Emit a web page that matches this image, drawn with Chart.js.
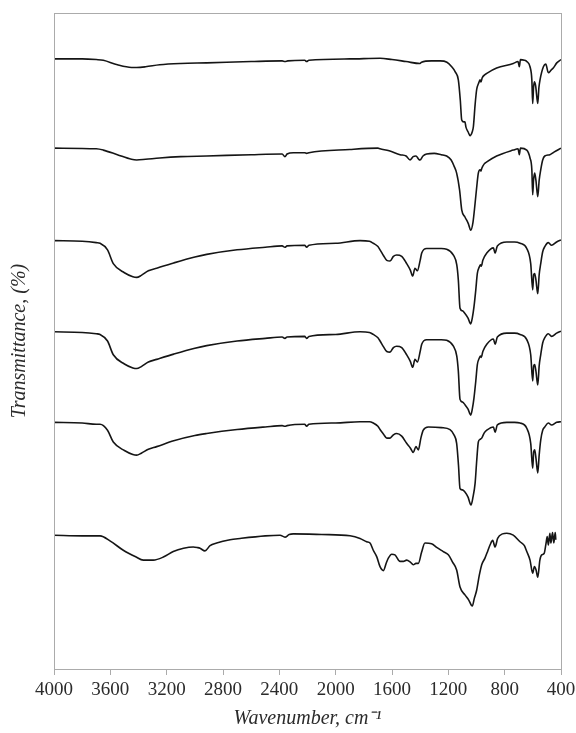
<!DOCTYPE html>
<html>
<head>
<meta charset="utf-8">
<script src="https://cdn.jsdelivr.net/npm/chart.js@4/dist/chart.umd.min.js"></script>
<style>
    html, body { margin: 0; padding: 0; background: #fff; }
    #wrap { width: 576px; height: 733px; }
</style>
</head>
<body>
<div id="wrap"><canvas id="ftir" width="576" height="733"></canvas></div>
<script>
// x tick labels (wavenumber, cm-1), axis runs 4000 -> 400
const xTicks = [4000, 3600, 3200, 2800, 2400, 2000, 1600, 1200, 800, 400];

// spectra, [wavenumber, transmittance], top to bottom
const spectrum1 = [
    [4000, 93.0], [3900, 93.0], [3800, 93.0], [3700, 92.9], [3650, 92.8], [3550, 92.1], [3450, 91.7], [3413, 91.7],
    [3350, 91.8], [3250, 92.1], [3100, 92.3], [2916, 92.4], [2600, 92.6], [2380, 92.7], [2360, 92.6], [2340, 92.7],
    [2220, 92.8], [2206, 92.6], [2190, 92.8], [1900, 93.0], [1685, 93.1], [1600, 92.9], [1500, 92.6], [1401, 92.3],
    [1390, 92.5], [1320, 92.7], [1259, 92.7], [1210, 92.5], [1176, 91.8], [1150, 91.0], [1129, 89.8], [1115, 86.7],
    [1105, 83.7], [1090, 83.4], [1082, 83.4], [1075, 82.6], [1060, 81.9], [1046, 81.3], [1030, 81.9], [1022, 82.7],
    [1010, 86.0], [999, 88.3], [985, 89.3], [975, 89.8], [968, 89.5], [960, 90.1], [940, 90.6], [927, 90.8],
    [857, 91.6], [739, 92.3], [705, 92.6], [696, 91.8], [688, 92.9], [660, 92.8], [643, 92.6], [620, 91.8],
    [607, 89.8], [601, 86.2], [595, 88.6], [589, 89.5], [580, 88.9], [565, 86.2], [557, 88.6], [549, 89.8],
    [525, 91.8], [508, 92.2], [490, 90.9], [470, 91.3], [455, 91.6], [430, 92.4], [400, 92.9]
];

const spectrum2 = [
    [4000, 79.4], [3700, 79.3], [3650, 79.1], [3550, 78.4], [3450, 77.7], [3413, 77.6], [3350, 77.7], [3250, 77.9],
    [3100, 78.1], [2916, 78.2], [2600, 78.4], [2380, 78.5], [2360, 78.1], [2345, 78.5], [2300, 78.7], [2220, 78.7],
    [2206, 78.6], [2190, 78.7], [1900, 79.2], [1700, 79.4], [1685, 79.3], [1620, 79.0], [1543, 78.4], [1500, 78.2],
    [1472, 77.6], [1450, 78.1], [1430, 78.2], [1410, 77.7], [1401, 77.6], [1380, 78.2], [1354, 78.5], [1300, 78.6],
    [1250, 78.4], [1212, 78.2], [1180, 77.6], [1160, 76.7], [1141, 75.6], [1120, 73.0], [1105, 70.0], [1082, 68.9],
    [1058, 67.9], [1041, 66.9], [1025, 68.1], [1010, 71.0], [995, 74.2], [987, 75.6], [975, 76.1], [968, 75.9],
    [963, 76.3], [945, 77.0], [927, 77.3], [857, 78.2], [739, 79.1], [705, 79.3], [696, 78.4], [688, 79.4],
    [643, 79.1], [620, 77.9], [607, 76.1], [601, 72.3], [595, 74.5], [587, 75.6], [578, 74.5], [565, 72.0],
    [555, 74.5], [544, 76.1], [530, 77.6], [515, 78.2], [479, 78.4], [450, 78.8], [400, 79.4]
];

const spectrum3 = [
    [4000, 65.3], [3800, 65.2], [3700, 65.0], [3673, 64.9], [3620, 63.9], [3579, 61.8], [3500, 60.4], [3440, 59.8],
    [3413, 59.7], [3380, 60.0], [3330, 60.7], [3271, 61.1], [3150, 61.9], [3000, 62.8], [2916, 63.2], [2700, 63.9],
    [2500, 64.3], [2380, 64.5], [2360, 64.3], [2345, 64.5], [2220, 64.6], [2206, 64.3], [2190, 64.6], [2000, 64.9],
    [1827, 65.3], [1760, 65.2], [1733, 64.9], [1700, 64.4], [1685, 63.9], [1660, 63.0], [1637, 62.3], [1614, 62.2],
    [1590, 62.9], [1567, 63.1], [1531, 62.9], [1496, 61.8], [1470, 60.8], [1453, 59.9], [1437, 61.1], [1420, 60.7],
    [1400, 62.3], [1389, 63.4], [1354, 64.1], [1250, 64.1], [1212, 64.0], [1164, 63.1], [1140, 61.6], [1129, 59.3],
    [1117, 55.0], [1100, 54.6], [1082, 54.2], [1060, 53.5], [1041, 52.6], [1030, 53.5], [1018, 55.2], [1005, 57.8],
    [994, 60.3], [980, 61.3], [971, 61.6], [966, 61.4], [955, 62.3], [927, 63.4], [880, 64.2], [868, 63.4],
    [852, 64.5], [785, 65.1], [730, 65.1], [691, 64.9], [643, 64.1], [615, 61.8], [601, 57.8], [594, 60.1],
    [587, 60.3], [578, 59.3], [565, 57.2], [555, 60.1], [544, 61.8], [530, 63.6], [515, 64.4], [490, 65.0],
    [467, 64.6], [431, 65.1], [400, 65.4]
];

const spectrum4 = [
    [4000, 51.4], [3800, 51.3], [3700, 51.1], [3673, 51.0], [3620, 50.0], [3579, 47.9], [3500, 46.5], [3440, 45.9],
    [3413, 45.8], [3380, 46.1], [3330, 46.8], [3271, 47.2], [3150, 48.0], [3000, 48.9], [2916, 49.3], [2700, 50.0],
    [2500, 50.4], [2380, 50.6], [2360, 50.4], [2345, 50.6], [2220, 50.7], [2206, 50.4], [2190, 50.7], [2000, 51.0],
    [1827, 51.4], [1760, 51.3], [1733, 51.0], [1700, 50.5], [1685, 50.0], [1660, 49.1], [1637, 48.4], [1614, 48.3],
    [1590, 49.0], [1567, 49.2], [1531, 49.0], [1496, 47.9], [1470, 46.9], [1453, 46.0], [1437, 47.2], [1420, 46.8],
    [1400, 48.4], [1389, 49.5], [1354, 50.2], [1250, 50.2], [1212, 50.1], [1164, 49.2], [1140, 47.7], [1129, 45.4],
    [1117, 41.1], [1100, 40.7], [1082, 40.3], [1060, 39.6], [1041, 38.7], [1030, 39.6], [1018, 41.3], [1005, 43.9],
    [994, 46.4], [980, 47.4], [971, 47.7], [966, 47.5], [955, 48.4], [927, 49.5], [880, 50.3], [868, 49.5],
    [852, 50.6], [785, 51.2], [730, 51.2], [691, 51.0], [643, 50.2], [615, 47.9], [601, 43.9], [594, 46.2],
    [587, 46.4], [578, 45.4], [565, 43.3], [555, 46.2], [544, 47.9], [530, 49.7], [515, 50.5], [490, 51.1],
    [467, 50.7], [431, 51.2], [400, 51.5]
];

const spectrum5 = [
    [4000, 37.6], [3800, 37.5], [3700, 37.3], [3673, 37.3], [3620, 36.4], [3579, 34.6], [3500, 33.3], [3440, 32.7],
    [3413, 32.6], [3380, 32.9], [3330, 33.5], [3271, 33.9], [3150, 34.8], [3000, 35.6], [2916, 35.9], [2700, 36.5],
    [2500, 36.9], [2380, 37.1], [2360, 37.0], [2345, 37.1], [2220, 37.3], [2206, 37.0], [2190, 37.3], [2000, 37.5],
    [1827, 37.7], [1760, 37.7], [1733, 37.5], [1700, 37.0], [1685, 36.5], [1660, 35.8], [1637, 35.2], [1614, 35.2],
    [1590, 35.7], [1567, 35.9], [1531, 35.5], [1496, 34.4], [1470, 33.7], [1449, 33.0], [1430, 33.9], [1413, 33.4],
    [1395, 35.2], [1378, 36.4], [1342, 36.9], [1250, 36.8], [1188, 36.5], [1160, 35.7], [1141, 34.4], [1128, 31.1],
    [1117, 27.5], [1100, 27.3], [1082, 27.0], [1060, 26.2], [1039, 25.0], [1025, 26.2], [1010, 28.3], [998, 31.9],
    [987, 34.6], [975, 35.0], [963, 35.2], [945, 36.0], [927, 36.4], [880, 36.9], [868, 36.1], [852, 37.2],
    [785, 37.6], [730, 37.6], [691, 37.5], [643, 36.7], [615, 34.4], [601, 30.6], [594, 33.1], [587, 33.4],
    [578, 32.2], [565, 29.9], [555, 32.6], [544, 34.9], [530, 36.4], [515, 36.9], [490, 37.5], [467, 37.2],
    [431, 37.6], [400, 37.7]
];

const spectrum6 = [
    [4000, 20.4], [3800, 20.3], [3673, 20.3], [3600, 19.5], [3508, 18.1], [3420, 17.1], [3366, 16.6], [3295, 16.6],
    [3220, 17.1], [3153, 17.9], [3080, 18.4], [3011, 18.6], [2980, 18.5], [2963, 18.4], [2928, 18.0], [2892, 18.8],
    [2845, 19.2], [2750, 19.7], [2679, 19.9], [2500, 20.3], [2395, 20.4], [2360, 20.1], [2330, 20.5], [2301, 20.6],
    [2100, 20.5], [1898, 20.3], [1827, 19.9], [1780, 19.4], [1756, 19.2], [1733, 18.1], [1708, 17.1], [1685, 15.6],
    [1661, 15.0], [1640, 16.2], [1626, 16.9], [1602, 17.5], [1579, 17.4], [1543, 16.4], [1519, 16.4], [1496, 16.6],
    [1470, 16.3], [1449, 15.9], [1430, 16.1], [1413, 16.1], [1390, 17.8], [1366, 19.2], [1319, 19.1], [1280, 18.5],
    [1236, 17.9], [1200, 17.4], [1170, 16.3], [1141, 15.1], [1117, 12.5], [1082, 11.3], [1055, 10.5], [1030, 9.6],
    [1015, 10.8], [999, 12.0], [980, 14.3], [963, 15.9], [940, 16.9], [920, 18.0], [904, 18.9], [885, 19.6],
    [868, 18.6], [850, 19.9], [815, 20.6], [785, 20.7], [739, 20.4], [691, 19.4], [660, 18.8], [643, 17.9],
    [620, 16.6], [601, 14.6], [589, 15.6], [577, 15.1], [565, 14.0], [550, 16.6], [537, 17.4], [520, 17.6],
    [506, 19.2], [498, 20.2], [490, 18.9], [479, 20.7], [472, 19.2], [460, 20.8], [451, 19.2], [441, 20.8],
    [437, 19.7]
];

const spectra = [spectrum1, spectrum2, spectrum3, spectrum4, spectrum5, spectrum6];

const AXIS_GREY = '#ababab';
const TEXT = '#2b2b2b';
const SERIF = "'Liberation Serif', 'Times New Roman', serif";

// frame round the plot area (top and right sides too)
const framePlugin = {
    id: 'frame',
    afterDraw(chart) {
        const { ctx, chartArea: a } = chart;
        ctx.save();
        ctx.strokeStyle = AXIS_GREY;
        ctx.lineWidth = 1;
        ctx.strokeRect(a.left + 0.5, a.top + 0.5, a.right - a.left, a.bottom - a.top);
        ctx.restore();
    }
};

const ctx = document.getElementById('ftir').getContext('2d');
new Chart(ctx, {
    type: 'line',
    data: {
        datasets: spectra.map((s, i) => ({
            label: 'spectrum ' + (i + 1),
            data: s.map(p => ({ x: p[0], y: p[1] })),
            borderColor: '#151515',
            borderWidth: 1.6,
            pointRadius: 0,
            fill: false,
            cubicInterpolationMode: 'monotone'
        }))
    },
    options: {
        responsive: false,
        devicePixelRatio: 1,
        animation: false,
        layout: { padding: { top: 13, right: 15, left: 0, bottom: 0 } },
        plugins: {
            legend: { display: false },
            tooltip: { enabled: false }
        },
        scales: {
            x: {
                type: 'linear',
                reverse: true,
                min: 400,
                max: 4000,
                afterBuildTicks: scale => {
                    scale.ticks = xTicks.map(v => ({ value: v }));
                },
                afterFit: scale => {
                    scale.height = 64;
                    // keep the plot box where the reference has it
                    scale.paddingLeft = 19;
                    scale.paddingRight = 15;
                },
                ticks: {
                    color: TEXT,
                    font: { family: SERIF, size: 19 },
                    padding: 4,
                    maxRotation: 0,
                    autoSkip: false,
                    callback: v => String(v)
                },
                grid: {
                    display: true,
                    drawOnChartArea: false,
                    drawTicks: true,
                    tickLength: 6,
                    color: AXIS_GREY
                },
                border: { display: true, color: AXIS_GREY },
                title: {
                    display: true,
                    text: 'Wavenumber, cm\u207B\u00B9',
                    color: TEXT,
                    font: { family: SERIF, size: 20, style: 'italic' },
                    padding: { top: 0, bottom: 2 }
                }
            },
            y: {
                min: 0,
                max: 100,
                afterFit: scale => { scale.width = 54; },
                ticks: { display: false },
                grid: { display: false },
                border: { display: true, color: AXIS_GREY },
                title: {
                    display: true,
                    text: 'Transmittance, (%)',
                    color: TEXT,
                    font: { family: SERIF, size: 20, style: 'italic' },
                    padding: { top: 8, bottom: 0 }
                }
            }
        }
    },
    plugins: [framePlugin]
});
</script>
</body>
</html>
